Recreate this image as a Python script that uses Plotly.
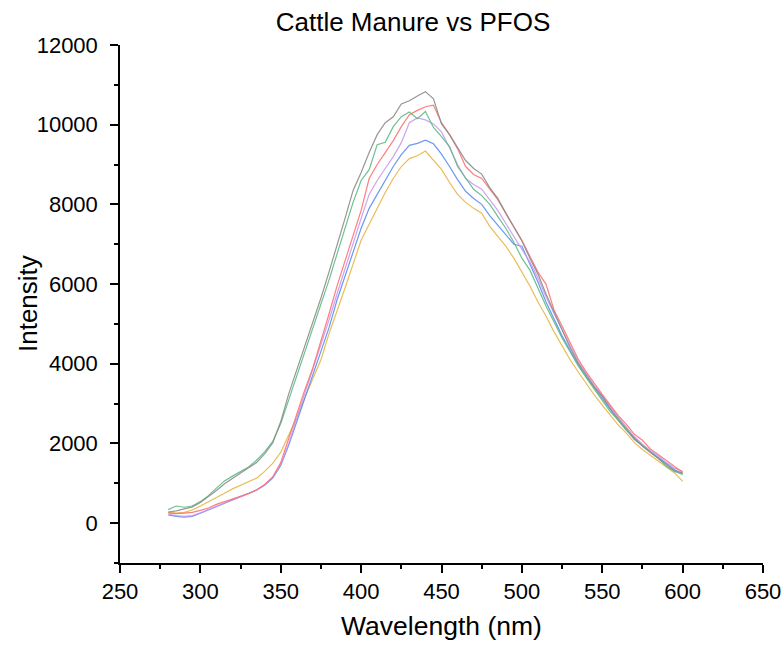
import plotly.graph_objects as go

wavelength = [280, 285, 290, 295, 300, 305, 310, 315, 320, 325, 330, 335, 340, 345, 350,
              355, 360, 365, 370, 375, 380, 385, 390, 395, 400, 405, 410, 415, 420, 425,
              430, 435, 440, 445, 450, 455, 460, 465, 470, 475, 480, 485, 490, 495, 500,
              505, 510, 515, 520, 525, 530, 535, 540, 545, 550, 555, 560, 565, 570, 575,
              580, 585, 590, 595, 600]

gray = [280, 310, 360, 410, 520, 660, 820, 990, 1130, 1270, 1390, 1520, 1740, 2010, 2550,
        3250, 3850, 4400, 5050, 5650, 6300, 6950, 7650, 8350, 8800, 9300, 9750, 10050, 10200, 10520,
        10600, 10720, 10830, 10650, 10020, 9750, 9420, 9100, 8900, 8760, 8420, 8150, 7780, 7420, 7080,
        6650, 6250, 5750, 5300, 4870, 4400, 4020, 3720, 3420, 3180, 2880, 2620, 2380, 2120, 1930,
        1780, 1620, 1480, 1310, 1260]

green = [340, 430, 400, 430, 540, 690, 880, 1060, 1180, 1300, 1410, 1580, 1790, 2050, 2500,
         3100, 3700, 4250, 4880, 5480, 6100, 6750, 7400, 8050, 8600, 8870, 9500, 9560, 9950, 10200,
         10320, 10150, 10330, 9930, 9700, 9450, 8950, 8650, 8380, 8220, 8000, 7700, 7400, 7050, 6650,
         6350, 5900, 5450, 5050, 4650, 4300, 3950, 3650, 3350, 3080, 2800, 2580, 2330, 2130, 1950,
         1780, 1620, 1420, 1300, 1220]

red = [260, 240, 250, 270, 320, 380, 470, 540, 600, 670, 740, 840, 970, 1160, 1520,
       2130, 2750, 3350, 3900, 4550, 5250, 5950, 6600, 7250, 7850, 8650, 9000, 9300, 9600, 9950,
       10250, 10360, 10450, 10490, 10050, 9750, 9400, 8950, 8750, 8650, 8380, 8120, 7780, 7450, 7100,
       6700, 6300, 6000, 5350, 4950, 4520, 4120, 3800, 3500, 3230, 2960, 2700, 2480, 2230, 2080,
       1860, 1720, 1560, 1420, 1280]

purple = [230, 190, 170, 190, 260, 340, 430, 510, 580, 660, 730, 830, 960, 1150, 1480,
          2000, 2650, 3250, 3850, 4450, 5100, 5750, 6400, 7000, 7650, 8250, 8600, 8900, 9200, 9550,
          10050, 10170, 10120, 10020, 9820, 9420, 9000, 8650, 8500, 8380, 8100, 7850, 7520, 7200, 6900,
          6550, 6150, 5680, 5260, 4850, 4450, 4060, 3760, 3460, 3200, 2920, 2660, 2410, 2170, 1980,
          1820, 1690, 1520, 1380, 1300]

blue = [210, 170, 150, 170, 250, 330, 420, 500, 580, 650, 730, 830, 950, 1130, 1450,
        1960, 2550, 3150, 3700, 4300, 4900, 5600, 6200, 6850, 7400, 7900, 8250, 8620, 8950, 9250,
        9480, 9530, 9610, 9520, 9260, 8950, 8620, 8330, 8150, 8000, 7720, 7480, 7250, 7000, 6950,
        6500, 6050, 5550, 5120, 4700, 4330, 3980, 3680, 3400, 3120, 2850, 2580, 2350, 2100, 1950,
        1800, 1640, 1500, 1340, 1240]

yellow = [270, 250, 270, 330, 430, 530, 640, 750, 860, 950, 1030, 1130, 1300, 1500, 1780,
          2200, 2650, 3150, 3650, 4100, 4750, 5300, 5900, 6500, 7100, 7500, 7900, 8300, 8650, 8950,
          9150, 9220, 9340, 9120, 8880, 8550, 8250, 8050, 7900, 7780, 7450, 7200, 6950, 6650, 6300,
          5950, 5550, 5200, 4800, 4450, 4100, 3800, 3500, 3220, 2960, 2700, 2460, 2260, 2020, 1850,
          1700, 1560, 1400, 1260, 1050]

x_ticks = [250, 300, 350, 400, 450, 500, 550, 600, 650]
x_minor = [275, 325, 375, 425, 475, 525, 575, 625]
y_ticks = [0, 2000, 4000, 6000, 8000, 10000, 12000]
y_minor = [-1000, 1000, 3000, 5000, 7000, 9000, 11000]

series = [
    ("Sample 1", yellow, "#e8b645"),
    ("Sample 2", blue, "#5b8ff0"),
    ("Sample 3", purple, "#c99af0"),
    ("Sample 4", green, "#5cbb84"),
    ("Sample 5", red, "#ff7272"),
    ("Sample 6", gray, "#8c8c8c"),
]

fig = go.Figure()
for name, vals, col in series:
    fig.add_trace(go.Scatter(x=wavelength, y=vals, mode="lines", name=name,
                             line=dict(color=col, width=1.2), opacity=0.9))

font_family = "Liberation Sans, Arial, sans-serif"
axis_common = dict(
    showline=True, linecolor="black", linewidth=1.5, mirror=False,
    ticks="outside", ticklen=8, tickwidth=1.5, tickcolor="black",
    showgrid=False, zeroline=False, automargin=False,
    tickfont=dict(family=font_family, size=22, color="black"),
)

fig.update_layout(
    width=782, height=650,
    margin=dict(l=120, r=19, t=45, b=87),
    paper_bgcolor="white", plot_bgcolor="white",
    showlegend=False,
    title=dict(text="Cattle Manure vs PFOS", x=413/782, xanchor="center", xref="container",
               y=1 - 22/650, yanchor="middle", yref="container",
               font=dict(family=font_family, size=26, color="black")),
    xaxis=dict(range=[250, 650], tickvals=x_ticks,
               minor=dict(ticks="outside", ticklen=4, tickwidth=1.5, tickcolor="black",
                          tickvals=x_minor),
               title=dict(text="Wavelength (nm)", font=dict(family=font_family, size=26.5, color="black"),
                          standoff=13),
               **axis_common),
    yaxis=dict(range=[-1000, 12000], tickvals=y_ticks, tickformat="d",
               minor=dict(ticks="outside", ticklen=4, tickwidth=1.5, tickcolor="black",
                          tickvals=y_minor),
               ticklabelstandoff=8,
               **axis_common),
    annotations=[dict(text="Intensity", textangle=-90, xref="paper", yref="paper",
                      x=(28 - 120) / 643, y=0.5, xanchor="center", yanchor="middle",
                      showarrow=False, font=dict(family=font_family, size=26, color="black"))],
    shapes=[dict(type="line", xref="paper", yref="paper", x0=-6/643, x1=0, y0=0, y1=0,
                 line=dict(color="black", width=1.5))],
)

fig.write_html("out.html")
